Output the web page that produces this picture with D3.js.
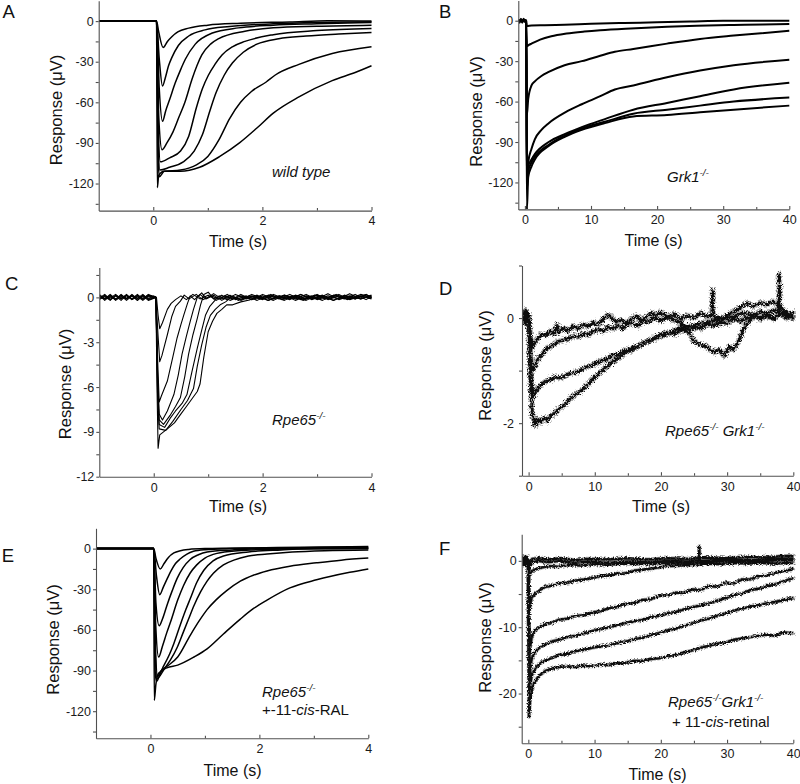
<!DOCTYPE html>
<html><head><meta charset="utf-8">
<script src="https://cdn.jsdelivr.net/npm/d3@7"></script>
<style>
body{margin:0;background:#fff}
svg{display:block}
text{font-family:"Liberation Sans",Arial,Helvetica,sans-serif}
</style></head>
<body><svg id="chart" width="800" height="784"></svg>
<script>
// ---------------- DATA ----------------
// Tick values / labels
const shortTimeTicks = [0, 2, 4];
const shortTimeLabels = ["0", "2", "4"];
const shortTimeMinor = [1, 3];
const longTimeTicks = [0, 10, 20, 30, 40];
const longTimeLabels = ["0", "10", "20", "30", "40"];
const longTimeMinor = [5, 15, 25, 35];
const bigRespTicks = [0, -30, -60, -90, -120];
const bigRespLabels = ["0", "-30", "-60", "-90", "-120"];
const bigRespMinor = [-15, -45, -75, -105, -135];
const rpeRespTicks = [0, -3, -6, -9, -12];
const rpeRespLabels = ["0", "-3", "-6", "-9", "-12"];
const rpeRespMinor = [1.5, -1.5, -4.5, -7.5, -10.5];
const dblRespTicks = [0, -2];
const dblRespLabels = ["0", "-2"];
const dblRespMinor = [1, -1, -3];
const retRespTicks = [0, -10, -20];
const retRespLabels = ["0", "-10", "-20"];
const retRespMinor = [-5, -15, -25];

// Panel A: wild type traces [time s, response uV]
const wildTypeTraces = [
 [[-1,0],[-0.5,0.3],[0,0],[0.06,0],[0.1,-8],[0.18,-19.5],[0.26,-15],[0.34,-11.5],[0.45,-8],[0.65,-5.2],[1.0,-3],[1.6,-1.6],[2.5,-0.6],[3.2,0.3],[4,0]],
 [[-1,0],[0,0],[0.06,0],[0.11,-28],[0.17,-48],[0.22,-42],[0.28,-33],[0.34,-27],[0.46,-18],[0.65,-11],[0.95,-6.5],[1.4,-4],[2.2,-2],[3,-1],[4,-0.5]],
 [[-1,0],[0,0],[0.06,0],[0.11,-50],[0.17,-74],[0.23,-66],[0.3,-58],[0.4,-46],[0.5,-36],[0.59,-28],[0.77,-17],[1.07,-9],[1.56,-5],[2.2,-3],[3,-2],[4,-1]],
 [[-1,0],[0,0],[0.06,0],[0.1,-70],[0.16,-95],[0.25,-90],[0.36,-82],[0.46,-72],[0.58,-60],[0.71,-43],[0.8,-33],[0.89,-25],[1.05,-17],[1.2,-13],[1.68,-7.5],[2.2,-5],[3,-3.8],[4,-3]],
 [[-1,0],[0,0],[0.06,0],[0.09,-75],[0.13,-104],[0.3,-101],[0.5,-96],[0.65,-85],[0.79,-64],[0.9,-50],[1.01,-40],[1.13,-32],[1.26,-25],[1.45,-19],[1.68,-15],[2.2,-10],[3,-7],[4,-5.4]],
 [[-1,0],[0,0],[0.06,0],[0.09,-90],[0.12,-110],[0.3,-108],[0.55,-104],[0.75,-96],[0.9,-84],[1.04,-66],[1.15,-53],[1.3,-40],[1.45,-31],[1.65,-23],[1.9,-17],[2.3,-13],[2.8,-11],[3.4,-9.5],[4,-8.4]],
 [[-1,0],[0,0],[0.06,0],[0.09,-100],[0.11,-115],[0.2,-111],[0.5,-110],[0.8,-106],[1.0,-100],[1.2,-88],[1.4,-72],[1.6,-60],[1.8,-52],[2.07,-45],[2.23,-40],[2.67,-32],[3.28,-24],[4,-19]],
 [[-1,0],[0,0],[0.06,0],[0.075,-123],[0.1,-114],[0.2,-111],[0.5,-111],[0.85,-108],[1.22,-100],[1.58,-90],[1.9,-79],[2.2,-68],[2.67,-56],[3.28,-44],[3.7,-38],[4,-33]]
];

// Panel B: Grk1-/- traces
const grk1Traces = [
 [[-1,0.5],[-0.5,-0.5],[0,0.5],[0.2,0],[0.3,-4],[1,-3.5],[3,-3.3],[6,-3],[10,-2.3],[15,-1.7],[20,-1.2],[25,-0.6],[30,0],[35,0],[40,0]],
 [[-1,0],[0.2,0],[0.3,-19],[0.6,-18],[1,-17],[2.3,-14],[4,-11.5],[6.3,-9.5],[9,-8],[11.4,-7],[16,-5.7],[21.5,-4.5],[26,-3.8],[31.6,-3.2],[36,-2.8],[40,-2.5]],
 [[-1,0],[0.2,0],[0.3,-70],[0.5,-58],[1,-48],[1.5,-45],[2.5,-41],[3.6,-38],[6,-33],[8.6,-30],[11.4,-26],[13.6,-23],[16.4,-21],[21.5,-17],[26.5,-13.5],[31.6,-11],[40,-7.5]],
 [[-1,0],[0.2,0],[0.3,-115],[0.5,-105],[1,-95],[1.5,-88],[2.5,-81],[3.6,-76],[6.1,-68],[8.6,-62],[11.4,-56],[13.6,-51],[16.4,-48],[21.5,-42],[26.5,-37],[31.6,-33],[40,-29]],
 [[-1,0],[0.2,0],[0.3,-120],[0.5,-108],[1,-103],[1.5,-99],[3.6,-90],[6.1,-84],[8.6,-79],[12.1,-73],[16.4,-66],[21.5,-61],[26.5,-56],[31.6,-51],[40,-46]],
 [[-1,0],[0.2,0],[0.3,-125],[0.5,-112],[1,-105],[1.5,-101],[3.6,-92],[6.1,-85],[8.6,-80],[12.1,-75],[16.4,-69],[21.5,-66],[26.5,-63],[31.6,-60],[40,-57]],
 [[-1,1],[-0.8,-1.5],[-0.6,1.5],[-0.4,-1.5],[-0.2,1.5],[0,-1],[0.2,0],[0.3,-140],[0.5,-116],[1,-108],[1.5,-103],[3.6,-93],[6.1,-86],[8.6,-81],[12.1,-76],[16.4,-71],[21.5,-70],[26.5,-68],[31.6,-66],[40,-63]]
];

// Panel C: Rpe65-/- traces
const rpe65Traces = [
 [[-1,0.15],[-0.9,-0.2],[-0.8,0.1],[-0.7,-0.15],[-0.6,0.2],[-0.5,-0.1],[-0.4,0.15],[-0.3,-0.2],[-0.2,0.1],[-0.1,-0.1],[0,0.1],[0.05,0],[0.08,-1.2],[0.11,-2.1],[0.16,-1.7],[0.25,-0.8],[0.32,-0.4],[0.4,-0.15],[0.5,0.1],[0.6,-0.15],[0.72,0.2],[0.85,-0.1],[1,0.15],[1.15,-0.2],[1.3,0.1],[1.45,-0.1],[1.6,0.2],[1.8,-0.15],[2,0.1],[2.2,-0.2],[2.4,0.15],[2.6,-0.1],[2.8,0.2],[3,-0.15],[3.2,0.1],[3.4,-0.1],[3.6,0.25],[3.8,-0.1],[4,0.1]],
 [[-1,-0.1],[-0.9,0.15],[-0.8,-0.15],[-0.7,0.1],[-0.6,-0.2],[-0.5,0.15],[-0.4,-0.1],[-0.3,0.2],[-0.2,-0.15],[-0.1,0.1],[0.04,0],[0.08,-2.6],[0.11,-4.3],[0.15,-3.9],[0.25,-2.5],[0.33,-1.3],[0.4,-0.6],[0.49,-0.25],[0.56,0.15],[0.65,-0.1],[0.78,0.2],[0.9,-0.15],[1.05,0.1],[1.2,-0.1],[1.35,0.2],[1.5,-0.15],[1.7,0.1],[1.9,-0.2],[2.1,0.15],[2.3,-0.1],[2.5,0.2],[2.7,-0.15],[2.9,0.1],[3.1,-0.2],[3.3,0.15],[3.5,-0.1],[3.7,0.2],[3.9,-0.15],[4,0.05]],
 [[-1,0.05],[-0.9,-0.1],[-0.8,0.2],[-0.7,-0.1],[-0.6,0.1],[-0.5,-0.2],[-0.4,0.1],[-0.3,-0.05],[-0.2,0.2],[-0.1,-0.15],[0.04,0],[0.07,-4],[0.1,-7],[0.14,-6.6],[0.25,-5.6],[0.35,-4],[0.43,-2.7],[0.5,-1.8],[0.55,-1.2],[0.62,-0.4],[0.67,0.1],[0.75,-0.15],[0.85,0.2],[0.95,-0.1],[1.1,0.25],[1.25,-0.1],[1.4,0.15],[1.55,-0.2],[1.75,0.1],[1.95,-0.1],[2.15,0.2],[2.35,-0.15],[2.55,0.1],[2.75,-0.2],[2.95,0.15],[3.15,-0.1],[3.35,0.2],[3.55,-0.15],[3.75,0.1],[4,-0.05]],
 [[-1,-0.15],[-0.9,0.1],[-0.8,-0.05],[-0.7,0.2],[-0.6,-0.1],[-0.5,0.1],[-0.4,-0.15],[-0.3,0.1],[-0.2,-0.1],[-0.1,0.2],[0.04,0],[0.07,-5],[0.1,-7.8],[0.16,-8.2],[0.25,-7.6],[0.37,-6.5],[0.45,-5.2],[0.52,-3.8],[0.6,-2.6],[0.67,-1.6],[0.73,-0.8],[0.8,0],[0.88,0.3],[0.97,-0.1],[1.1,0.15],[1.25,-0.2],[1.4,0.1],[1.6,-0.15],[1.8,0.2],[2,-0.1],[2.2,0.1],[2.4,-0.2],[2.6,0.15],[2.8,-0.1],[3,0.2],[3.2,-0.15],[3.4,0.1],[3.6,-0.1],[3.8,0.2],[4,0]],
 [[-1,0.1],[-0.9,-0.1],[-0.8,0.15],[-0.7,-0.2],[-0.6,0.05],[-0.5,-0.1],[-0.4,0.2],[-0.3,-0.1],[-0.2,0.1],[-0.1,-0.2],[0.04,0],[0.07,-5.5],[0.1,-8.2],[0.18,-8.5],[0.3,-7.9],[0.4,-7.3],[0.49,-6.7],[0.57,-5.3],[0.64,-3.8],[0.72,-2.5],[0.8,-1.4],[0.86,-0.5],[0.92,0.2],[1,0.35],[1.1,-0.1],[1.25,0.15],[1.4,-0.2],[1.6,0.1],[1.8,-0.15],[2,0.2],[2.2,-0.1],[2.4,0.15],[2.6,-0.2],[2.8,0.1],[3,-0.1],[3.2,0.25],[3.4,-0.15],[3.6,0.1],[3.8,-0.1],[4,0.15]],
 [[-1,-0.05],[-0.9,0.2],[-0.8,-0.15],[-0.7,0.1],[-0.6,-0.1],[-0.5,0.2],[-0.4,-0.15],[-0.3,0.05],[-0.2,-0.2],[-0.1,0.1],[0.04,0],[0.07,-6],[0.1,-8.5],[0.2,-8.7],[0.3,-8.1],[0.4,-7.6],[0.52,-7.1],[0.61,-6.5],[0.7,-5],[0.8,-3.4],[0.88,-2.2],[0.95,-1.2],[1.03,-0.6],[1.1,-0.3],[1.2,0.1],[1.35,-0.15],[1.5,0.2],[1.7,-0.1],[1.9,0.15],[2.1,-0.2],[2.3,0.1],[2.5,-0.1],[2.7,0.2],[2.9,-0.15],[3.1,0.1],[3.3,-0.2],[3.5,0.15],[3.7,-0.1],[3.9,0.2],[4,0]],
 [[-1,0.2],[-0.9,-0.1],[-0.8,0.05],[-0.7,-0.15],[-0.6,0.15],[-0.5,-0.05],[-0.4,0.1],[-0.3,-0.2],[-0.2,0.15],[-0.1,-0.05],[0.04,0],[0.07,-6.5],[0.1,-8.8],[0.22,-8.9],[0.35,-8.3],[0.5,-7.5],[0.62,-6.9],[0.73,-6.1],[0.8,-4.6],[0.88,-3.2],[0.96,-2],[1.04,-1.2],[1.13,-0.8],[1.22,-0.5],[1.32,-0.3],[1.45,0.1],[1.6,-0.2],[1.8,0.1],[2,-0.15],[2.2,0.2],[2.4,-0.1],[2.6,0.1],[2.8,-0.2],[3,0.15],[3.2,-0.1],[3.4,0.2],[3.6,-0.15],[3.8,0.1],[4,-0.1]],
 [[-1,-0.1],[-0.9,0.05],[-0.8,-0.2],[-0.7,0.15],[-0.6,-0.05],[-0.5,0.15],[-0.4,-0.1],[-0.3,0.15],[-0.2,-0.05],[-0.1,0.15],[0.04,0],[0.06,-6],[0.08,-10.1],[0.11,-9.2],[0.18,-9],[0.25,-8.8],[0.38,-8.4],[0.5,-7.8],[0.6,-7.3],[0.7,-6.8],[0.8,-6.3],[0.85,-5.8],[0.92,-4],[1.0,-2.3],[1.08,-1.6],[1.16,-1.07],[1.25,-0.8],[1.34,-0.5],[1.45,-0.5],[1.6,-0.3],[1.76,-0.18],[1.9,0.1],[2.1,-0.2],[2.3,0.1],[2.5,-0.15],[2.7,0.2],[2.9,-0.1],[3.1,0.15],[3.3,-0.2],[3.5,0.1],[3.7,-0.1],[3.9,0.2],[4,0]]
];

// Panel D: Rpe65-/- Grk1-/- traces
const doubleKoTraces = [
 [[-1,0.05],[-0.6,-0.1],[-0.3,0.12],[0,0],[0.3,-0.35],[0.6,-0.55],[1,-0.45],[1.5,-0.38],[2,-0.3],[2.6,-0.33],[3.2,-0.25],[3.8,-0.3],[4.3,-0.12],[4.5,-0.28],[5.2,-0.2],[6,-0.24],[6.8,-0.15],[7.5,-0.2],[8.3,-0.12],[9,-0.16],[9.8,-0.08],[10.5,-0.12],[11.3,-0.02],[12,0.06],[12.6,0],[13.3,-0.08],[14,-0.04],[14.8,-0.1],[15.5,-0.02],[16.3,0.04],[17,-0.05],[17.8,0.02],[18.5,0.1],[19.3,0.05],[20,0.12],[21,0.02],[22,0.08],[23,-0.02],[24,0.05],[25,0],[26,0.1],[27,0.02],[27.7,0.06],[27.8,0.52],[27.9,0.05],[29,-0.02],[30,0.05],[31,0.12],[32,0.2],[33,0.28],[34,0.22],[35,0.3],[36,0.25],[37,0.32],[38,0.2],[39,0.1],[40,0.05]],
 [[-1,-0.05],[-0.5,0.1],[0,0],[0.3,-0.7],[0.6,-1.0],[1,-0.9],[1.5,-0.75],[2,-0.7],[2.6,-0.6],[3.2,-0.55],[3.8,-0.5],[4.5,-0.45],[5.2,-0.42],[6,-0.4],[6.8,-0.34],[7.5,-0.36],[8.3,-0.3],[9,-0.32],[9.8,-0.25],[10.5,-0.22],[11.3,-0.24],[12,-0.18],[12.8,-0.2],[13.5,-0.15],[14.3,-0.2],[15,-0.12],[15.8,-0.1],[16.5,-0.15],[17.3,-0.05],[18,-0.08],[19,0],[20,-0.05],[21,0.02],[22,-0.04],[23,-0.1],[24,-0.2],[25,-0.45],[26,-0.5],[27,-0.55],[28,-0.65],[28.8,-0.6],[29.5,-0.72],[30.3,-0.55],[31,-0.6],[31.8,-0.42],[32.5,-0.2],[33.3,-0.05],[34,0.05],[35,0],[36,0.05],[37,-0.02],[37.85,0.08],[37.9,0.84],[37.95,0.08],[39,0],[40,0.02]],
 [[-1,0],[-0.4,-0.1],[0,0.05],[0.3,-1.0],[0.7,-1.5],[1.1,-1.4],[1.6,-1.3],[2.4,-1.22],[3.2,-1.18],[4,-1.12],[4.9,-1.14],[5.7,-1.08],[6.5,-1.05],[7.4,-1.02],[8.2,-0.97],[9,-0.92],[9.9,-0.88],[10.7,-0.82],[11.5,-0.8],[12.4,-0.72],[13.3,-0.7],[14.2,-0.64],[15,-0.6],[16,-0.56],[16.9,-0.52],[17.8,-0.45],[18.6,-0.42],[19.5,-0.36],[20.4,-0.33],[21.3,-0.28],[22.2,-0.3],[23.1,-0.22],[24,-0.25],[25,-0.18],[26,-0.2],[27,-0.12],[28,-0.15],[29,-0.08],[30,-0.1],[31,-0.02],[32,-0.06],[33,0],[34,0.05],[35,-0.02],[36,0.04],[37,0],[38,0.08],[39,0.02],[40,0]],
 [[-1,0.05],[-0.5,0.15],[0,0],[0.3,-1.3],[0.6,-1.85],[1,-2.05],[1.3,-1.92],[1.8,-1.98],[2.3,-1.9],[2.8,-1.95],[3.4,-1.85],[4,-1.8],[4.6,-1.72],[5.2,-1.68],[5.9,-1.58],[6.6,-1.5],[7.3,-1.44],[8,-1.38],[8.7,-1.3],[9.4,-1.2],[10.1,-1.12],[10.9,-1.02],[11.6,-0.95],[12.3,-0.88],[13,-0.8],[13.8,-0.74],[14.6,-0.66],[15.4,-0.62],[16.2,-0.56],[17,-0.5],[17.8,-0.45],[18.6,-0.4],[19.4,-0.35],[20.3,-0.3],[21.2,-0.28],[22.1,-0.22],[23,-0.2],[24,-0.16],[25,-0.14],[26,-0.1],[27,-0.08],[28,-0.05],[29,-0.02],[30,0],[31,0.02],[32,0.08],[33,0.1],[34,0.05],[35,0.12],[36,0.08],[37,0.15],[38,0.1],[39,0.05],[40,0.1]]
];

// Panel E: Rpe65-/- + 11-cis-RAL traces
const rescuedTraces = [
 [[-1,0],[0,0],[0.06,0],[0.1,-7],[0.18,-15],[0.25,-11],[0.33,-6.5],[0.43,-3.2],[0.55,-1.5],[0.7,-0.6],[1,0],[2,0.5],[4,1]],
 [[-1,0],[0,0],[0.06,0],[0.11,-20],[0.17,-34],[0.24,-28],[0.31,-22],[0.37,-17],[0.46,-11],[0.55,-7.5],[0.67,-4],[0.79,-2],[1,-0.8],[1.5,0],[4,1.5]],
 [[-1,0],[0,0],[0.06,0],[0.1,-40],[0.16,-57],[0.22,-52],[0.31,-41],[0.4,-31],[0.49,-22],[0.6,-14],[0.73,-8],[0.88,-4.5],[1.04,-2.5],[1.5,-1],[2,0],[4,0.5]],
 [[-1,0],[0,0],[0.06,0],[0.095,-55],[0.15,-80],[0.22,-72],[0.3,-62],[0.37,-54],[0.5,-38],[0.61,-27],[0.73,-18],[0.85,-12],[1.0,-7],[1.22,-3.5],[1.6,-1.5],[2.2,-0.5],[4,0]],
 [[-1,0],[0,0],[0.06,0],[0.09,-70],[0.13,-94],[0.25,-86],[0.35,-78],[0.43,-70],[0.55,-56],[0.65,-45],[0.73,-37],[0.85,-25],[0.98,-16],[1.15,-9],[1.34,-5.5],[1.8,-2.5],[2.4,-1],[3,0],[4,0]],
 [[-1,0],[0,0],[0.06,0],[0.09,-80],[0.12,-96],[0.25,-89],[0.37,-82],[0.49,-73],[0.6,-62],[0.7,-52],[0.8,-42],[0.92,-32],[1.04,-24],[1.16,-18],[1.34,-12],[1.53,-8.5],[1.8,-5.5],[2.14,-4],[2.6,-2.5],[3.2,-1.5],[4,-1]],
 [[-1,0],[0,0],[0.06,0],[0.085,-90],[0.11,-98],[0.2,-90],[0.3,-87],[0.5,-80],[0.73,-64],[0.9,-53],[1.04,-45],[1.2,-38],[1.4,-31],[1.65,-24],[1.9,-19.5],[2.14,-16.5],[2.56,-13],[3.05,-10.5],[3.5,-8.5],[4,-7]],
 [[-1,0],[0,0],[0.06,0],[0.07,-112],[0.1,-100],[0.15,-92],[0.3,-88],[0.5,-86],[0.8,-80],[1.04,-74],[1.34,-63],[1.65,-52],[1.9,-44],[2.14,-38],[2.56,-29],[3.05,-23],[3.66,-17.5],[4,-15]]
];

// Panel F: Rpe65-/- Grk1-/- + 11-cis-retinal traces
const doubleRescuedTraces = [
 [[-1,0],[-0.5,0.3],[0,0],[0.2,-0.4],[0.6,0.3],[1.5,0.4],[3,0.2],[5,0.4],[7,0.1],[9,0.3],[12,0.2],[15,0.4],[18,0.2],[21,0.4],[24,0.3],[27,0.5],[30,0.4],[33,0.6],[36,0.5],[38,0.7],[40,0.75]],
 [[-1,0],[0,0],[0.2,-0.8],[0.6,-0.2],[1.5,0],[3,-0.2],[5,0],[7,-0.3],[9,-0.1],[12,-0.3],[15,-0.1],[18,-0.2],[21,0],[24,-0.1],[25.7,0.1],[25.8,2.2],[25.9,0],[28,0.1],[31,0.2],[34,0.1],[37,0.3],[40,0.35]],
 [[-1,0],[0,0],[0.2,-2],[0.6,-1.5],[1.1,-1.3],[2,-1.0],[3,-0.8],[4.5,-0.9],[6,-0.6],[8,-0.7],[10,-0.5],[12,-0.6],[14,-0.4],[17,-0.5],[20,-0.3],[23,-0.4],[26,-0.2],[29,-0.1],[32,0],[35,-0.1],[38,0.1],[40,0.1]],
 [[-1,0],[0,0],[0.15,-7.5],[0.5,-5.5],[1.1,-4.9],[1.9,-4.3],[2.6,-3.9],[3.4,-3.8],[4.5,-3.4],[5.9,-3.3],[7,-3.0],[8.4,-2.8],[9.6,-2.6],[10.9,-2.3],[12.2,-2.2],[13.4,-1.9],[14.6,-1.9],[15.9,-1.5],[17.5,-1.3],[19,-1.1],[21,-0.8],[23,-0.7],[25,-0.6],[27,-0.4],[29,-0.5],[31,-0.3],[33,-0.4],[35,-0.3],[37,-0.4],[40,-0.3]],
 [[-1,0],[0,0],[0.15,-14],[0.5,-11.5],[1.1,-10.3],[1.9,-9.9],[2.6,-9.5],[3.4,-9.4],[4.6,-8.9],[5.9,-8.7],[7.1,-8.3],[8.4,-8.2],[9.6,-7.8],[10.9,-7.6],[12.2,-7.1],[13.4,-7],[14.6,-6.5],[15.9,-6.4],[17.2,-5.9],[18.4,-5.8],[19.7,-5.3],[21,-5.2],[22.3,-4.8],[23.5,-4.8],[24.8,-4.3],[26,-4.4],[27.3,-3.8],[28.5,-3.9],[29.8,-3.3],[31,-3.4],[32.3,-2.8],[33.5,-2.8],[34.8,-2.3],[36,-2.2],[37.3,-1.8],[38.5,-1.6],[40,-1.2]],
 [[-1,0],[0,0],[0.15,-17.5],[0.5,-14.8],[1.1,-13.6],[1.9,-12.9],[2.6,-12.6],[3.4,-12.2],[4.6,-11.9],[5.9,-11.5],[7.1,-11.3],[8.4,-10.9],[9.6,-10.6],[10.9,-10.3],[12.2,-10],[13.4,-9.7],[14.6,-9.4],[15.9,-9.1],[17.2,-8.9],[18.4,-8.5],[19.7,-8.3],[21,-7.9],[22.3,-7.7],[23.5,-7.3],[24.8,-7],[26,-6.7],[27.3,-6.4],[28.5,-6],[29.8,-5.6],[31,-5.2],[32.3,-4.9],[33.5,-4.4],[34.8,-4.2],[36,-3.8],[37.3,-3.5],[38.5,-3.1],[40,-2.6]],
 [[-1,0],[0,0],[0.15,-19.5],[0.5,-17.3],[1.1,-16.1],[1.9,-15.4],[2.6,-15],[3.4,-14.7],[4.6,-14.2],[5.9,-14],[7.1,-13.6],[8.4,-13.4],[9.6,-13.1],[10.9,-12.9],[12.2,-12.7],[13.4,-12.4],[14.6,-12.2],[15.9,-11.8],[17.2,-11.6],[18.4,-11.2],[19.7,-10.9],[21,-10.5],[22.3,-10.2],[23.5,-9.8],[24.8,-9.4],[26,-9],[27.3,-8.7],[28.5,-8.3],[29.8,-7.9],[31,-7.5],[32.3,-7.2],[33.5,-6.9],[34.8,-6.7],[36,-6.4],[37.3,-6.2],[38.5,-5.9],[40,-5.6]],
 [[-1,0.6],[-0.9,-0.6],[-0.8,0.6],[-0.7,-0.6],[-0.6,0.6],[-0.5,-0.6],[-0.4,0.6],[-0.3,-0.6],[-0.2,0.6],[-0.1,-0.6],[0,0],[0.1,-23.5],[0.3,-20.5],[0.8,-18.6],[1.4,-17.6],[1.9,-17.1],[2.6,-16.6],[3.4,-16.3],[4.6,-16],[5.9,-15.9],[7.1,-16],[8.4,-15.8],[9.6,-15.9],[10.9,-15.6],[12.2,-15.7],[13.4,-15.4],[14.6,-15.4],[15.9,-15.1],[17.2,-15.1],[18.4,-14.8],[19.7,-14.7],[21,-14.4],[22.3,-14.2],[23.5,-13.8],[24.8,-13.5],[26,-13.1],[27.3,-12.8],[28.5,-12.5],[29.8,-12.3],[31,-11.9],[32.3,-11.7],[33.5,-11.5],[34.8,-11.3],[36,-11.1],[37.3,-11.3],[38.5,-10.8],[40,-10.9]]
];

// ---------------- DRAWING ----------------
const svg = d3.select("#chart");
const AXIS_COLOR = "#505050";

// rendering style for recording noise (visual texture only)
const defs = svg.append("defs");
function noiseFilter(id, freq, scale) {
  const f = defs.append("filter").attr("id", id)
    .attr("x", "-5%").attr("y", "-10%").attr("width", "110%").attr("height", "120%");
  f.append("feTurbulence").attr("type", "fractalNoise").attr("baseFrequency", freq)
    .attr("numOctaves", 2).attr("seed", 3).attr("result", "n");
  f.append("feDisplacementMap").attr("in", "SourceGraphic").attr("in2", "n")
    .attr("scale", scale).attr("xChannelSelector", "R").attr("yChannelSelector", "G");
}
noiseFilter("noiseD", "0.7 1.1", 7);
noiseFilter("noiseF", "0.7 1.1", 4.5);

function richText(x, y, parts, size) {
  const t = svg.append("text").attr("x", x).attr("y", y).attr("font-size", size).attr("fill", "#111");
  let shift = 0;
  parts.forEach(p => {
    const s = t.append("tspan").text(p.t);
    if (p.i) s.attr("font-style", "italic");
    if (p.sup) {
      s.attr("font-size", size * 0.66).attr("dy", -size * 0.4 - shift);
      shift = -size * 0.4;
    } else if (shift !== 0) {
      s.attr("dy", -shift);
      shift = 0;
    }
  });
  return t;
}

function panel(o) {
  const x = d3.scaleLinear().domain(o.xDomain).range(o.xRange);
  const y = d3.scaleLinear().domain(o.yDomain).range(o.yRange);
  const id = "clip" + o.letter;
  svg.append("clipPath").attr("id", id).append("rect")
    .attr("x", o.xRange[0] + 0.5).attr("y", o.yRange[1])
    .attr("width", o.xRange[1] - o.xRange[0] + 2).attr("height", o.yRange[0] - o.yRange[1] - 0.5);

  const line = d3.line().x(d => x(d[0])).y(d => y(d[1])).curve(o.curve);
  const outer = svg.append("g").attr("clip-path", `url(#${id})`);
  const tg = outer.append("g");
  if (o.filter) tg.attr("filter", `url(#${o.filter})`);
  if (o.halo) {
    tg.selectAll(null).data(o.traces).join("path")
      .attr("d", line).attr("fill", "none")
      .attr("stroke", o.halo.color).attr("stroke-width", o.halo.width)
      .attr("stroke-opacity", o.halo.opacity)
      .attr("stroke-linejoin", "round").attr("stroke-linecap", "round");
  }
  tg.selectAll(null).data(o.traces).join("path")
    .attr("d", line).attr("fill", "none")
    .attr("stroke", o.color || "#000").attr("stroke-width", o.width)
    .attr("stroke-linejoin", "round");

  // y axis
  const ya = svg.append("g").attr("transform", `translate(${o.xRange[0]},0)`)
    .call(d3.axisLeft(y).tickValues(o.yTicks).tickSize(3).tickSizeOuter(0).tickPadding(o.yPad || 2)
      .tickFormat((d, i) => o.yLabels[i]));
  const ym = svg.append("g").attr("transform", `translate(${o.xRange[0]},0)`)
    .call(d3.axisLeft(y).tickValues(o.yMinor).tickSize(3).tickSizeOuter(0).tickFormat(""));
  ym.select(".domain").remove();
  // x axis
  const xa = svg.append("g").attr("transform", `translate(0,${o.yRange[0]})`)
    .call(d3.axisBottom(x).tickValues(o.xTicks).tickSize(-3.5).tickSizeOuter(0).tickPadding(6)
      .tickFormat((d, i) => o.xLabels[i]));
  const xm = svg.append("g").attr("transform", `translate(0,${o.yRange[0]})`)
    .call(d3.axisBottom(x).tickValues(o.xMinor).tickSize(-2.5).tickSizeOuter(0).tickFormat(""));
  xm.select(".domain").remove();
  [ya, ym, xa, xm].forEach(a => {
    a.selectAll("path, line").attr("stroke", AXIS_COLOR).attr("stroke-width", 1.1);
    a.selectAll("text").attr("font-size", 12.5).attr("fill", "#1a1a1a")
      .attr("font-family", '"Liberation Sans", Arial, sans-serif');
  });

  // titles
  svg.append("text").attr("x", o.xTitle[0]).attr("y", o.xTitle[1])
    .attr("text-anchor", "middle").attr("font-size", 16).attr("fill", "#111").text("Time (s)");
  svg.append("text").attr("transform", `translate(${o.yTitle[0]},${o.yTitle[1]}) rotate(-90)`)
    .attr("text-anchor", "middle").attr("font-size", 16.5).attr("fill", "#111").text("Response (\u03BCV)");
  svg.append("text").attr("x", o.letterPos[0]).attr("y", o.letterPos[1])
    .attr("font-size", 18.5).attr("fill", "#111").text(o.letter);
  o.notes.forEach(n => richText(n.x, n.y, n.parts, 15));
}

const SUP = "-/-";

panel({
  letter: "A", letterPos: [2.5, 18.3], traces: wildTypeTraces, curve: d3.curveMonotoneX, width: 1.5,
  xDomain: [-1, 4], xRange: [98.7, 371.5], yDomain: [-140, 15], yRange: [210.6, 0.8],
  xTicks: shortTimeTicks, xLabels: shortTimeLabels, xMinor: shortTimeMinor,
  yTicks: bigRespTicks, yLabels: bigRespLabels, yMinor: bigRespMinor,
  xTitle: [238, 247], yTitle: [61.5, 110],
  notes: [{x: 272, y: 177, parts: [{t: "wild type", i: true}]}]
});
panel({
  letter: "B", letterPos: [439, 18.3], traces: grk1Traces, curve: d3.curveMonotoneX, width: 2,
  xDomain: [-1, 40], xRange: [518.3, 789.3], yDomain: [-140, 15], yRange: [209.4, 0.5],
  xTicks: longTimeTicks, xLabels: longTimeLabels, xMinor: longTimeMinor,
  yTicks: bigRespTicks, yLabels: bigRespLabels, yMinor: bigRespMinor,
  xTitle: [653.5, 245.5], yTitle: [481.5, 111.5],
  notes: [{x: 667, y: 182, parts: [{t: "Grk1", i: true}, {t: SUP, i: true, sup: true}]}]
});
panel({
  letter: "C", letterPos: [5, 290], traces: rpe65Traces, curve: d3.curveLinear, width: 1.1,
  xDomain: [-1, 4], xRange: [99.3, 371.5], yDomain: [-12, 2], yRange: [476.7, 267.5],
  xTicks: shortTimeTicks, xLabels: shortTimeLabels, xMinor: shortTimeMinor,
  yTicks: rpeRespTicks, yLabels: rpeRespLabels, yMinor: rpeRespMinor,
  xTitle: [238, 512], yTitle: [70.5, 384],
  notes: [{x: 272, y: 425, parts: [{t: "Rpe65", i: true}, {t: SUP, i: true, sup: true}]}]
});
panel({
  letter: "D", letterPos: [439, 295], traces: doubleKoTraces, curve: d3.curveLinear, width: 3,
  color: "#111", filter: "noiseD", halo: {color: "#666", width: 5.5, opacity: 0.55},
  xDomain: [-1, 40], xRange: [522, 793.3], yDomain: [-3, 1], yRange: [475.7, 265.5], yPad: 5,
  xTicks: longTimeTicks, xLabels: longTimeLabels, xMinor: longTimeMinor,
  yTicks: dblRespTicks, yLabels: dblRespLabels, yMinor: dblRespMinor,
  xTitle: [661, 512], yTitle: [490.5, 365.5],
  notes: [{x: 665, y: 436, parts: [{t: "Rpe65", i: true}, {t: SUP, i: true, sup: true}, {t: " Grk1", i: true}, {t: SUP, i: true, sup: true}]}]
});
panel({
  letter: "E", letterPos: [1.7, 562], traces: rescuedTraces, curve: d3.curveMonotoneX, width: 1.5,
  xDomain: [-1, 4], xRange: [96, 368.3], yDomain: [-140, 15], yRange: [738.3, 528.3],
  xTicks: shortTimeTicks, xLabels: shortTimeLabels, xMinor: shortTimeMinor,
  yTicks: bigRespTicks, yLabels: bigRespLabels, yMinor: bigRespMinor,
  xTitle: [232.5, 775.5], yTitle: [58.5, 639.5],
  notes: [
    {x: 262, y: 696.5, parts: [{t: "Rpe65", i: true}, {t: SUP, i: true, sup: true}]},
    {x: 262, y: 715, parts: [{t: "+-11-"}, {t: "cis", i: true}, {t: "-RAL"}]}
  ]
});
panel({
  letter: "F", letterPos: [439, 555], traces: doubleRescuedTraces, curve: d3.curveLinear, width: 2.4,
  color: "#111", filter: "noiseF", halo: {color: "#666", width: 4, opacity: 0.55},
  xDomain: [-1, 40], xRange: [521.7, 793.3], yDomain: [-27.5, 4], yRange: [743.3, 534.3],
  xTicks: longTimeTicks, xLabels: longTimeLabels, xMinor: longTimeMinor,
  yTicks: retRespTicks, yLabels: retRespLabels, yMinor: retRespMinor,
  xTitle: [657.5, 780], yTitle: [490.5, 637.5],
  notes: [
    {x: 668, y: 707, parts: [{t: "Rpe65", i: true}, {t: SUP, i: true, sup: true}, {t: "Grk1", i: true}, {t: SUP, i: true, sup: true}]},
    {x: 672, y: 727, parts: [{t: "+ 11-"}, {t: "cis", i: true}, {t: "-retinal"}]}
  ]
});
</script>
</body></html>
